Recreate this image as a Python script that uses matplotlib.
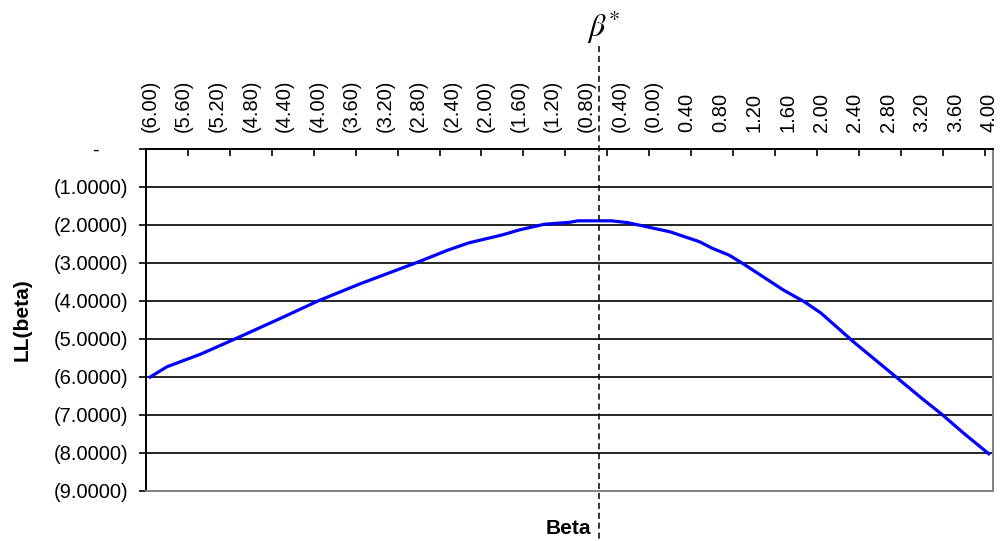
import numpy as np
from matplotlib import pyplot as plt
from matplotlib.transforms import blended_transform_factory

plt.rcParams['font.family'] = ['Liberation Sans', 'DejaVu Sans']
plt.rcParams['mathtext.fontset'] = 'stix'

# values (beta, LL(beta))
beta = [-6.0, -5.8, -5.4, -5.0, -4.4, -4.0, -3.5, -2.8, -2.45, -2.2, -1.8,
        -1.6, -1.3, -1.0, -0.9, -0.5, -0.3, 0.2, 0.55, 0.7, 0.9, 1.05,
        1.55, 1.8, 2.0, 2.4, 2.9, 3.2, 3.45, 3.7, 4.0]
ll = [-6.00, -5.73, -5.40, -5.01, -4.41, -4.00, -3.55, -2.97, -2.66, -2.47,
      -2.26, -2.13, -1.98, -1.93, -1.89, -1.89, -1.94, -2.18, -2.44, -2.61,
      -2.79, -2.99, -3.71, -4.02, -4.32, -5.10, -6.01, -6.56, -7.00, -7.48,
      -8.02]
beta_star = -0.65

x_labels = ["(6.00)", "(5.60)", "(5.20)", "(4.80)", "(4.40)", "(4.00)",
            "(3.60)", "(3.20)", "(2.80)", "(2.40)", "(2.00)", "(1.60)",
            "(1.20)", "(0.80)", "(0.40)", "(0.00)", "0.40", "0.80", "1.20",
            "1.60", "2.00", "2.40", "2.80", "3.20", "3.60", "4.00"]
y_vals = [0, -1, -2, -3, -4, -5, -6, -7, -8, -9]
y_labels = ["-     ", "(1.0000)", "(2.0000)", "(3.0000)", "(4.0000)",
            "(5.0000)", "(6.0000)", "(7.0000)", "(8.0000)", "(9.0000)"]

fig = plt.figure(figsize=(10.03, 5.41), dpi=100)
ax = fig.add_axes([146 / 1003, 1 - 491 / 541, 847 / 1003, 342 / 541])

# category axis: 101 slots of 0.1, ticks every 5 slots, labels every 4
ax.set_xlim(-6.05, 4.05)
ax.set_ylim(-9, 0)

for y in y_vals[1:-1]:
    ax.axhline(y, color='black', lw=1.2, zorder=1)

ax.plot(beta, ll, color='#0000ff', lw=2.3, zorder=3)

ax.xaxis.tick_top()
ax.set_xticks(np.arange(-6.05, 4.0, 0.5))
ax.set_xticks(np.linspace(-6.0, 4.0, len(x_labels)), minor=True)
ax.set_xticklabels([], minor=False)
ax.set_xticklabels(x_labels, minor=True, rotation=90, fontsize=14.5)
ax.tick_params(axis='x', which='major', direction='in', length=5, width=1.2,
               color='black')
ax.tick_params(axis='x', which='minor', length=0, pad=12)

ax.set_yticks(y_vals)
ax.set_yticklabels(y_labels, fontsize=14.5)
ax.tick_params(axis='y', direction='out', length=5, width=1.2, pad=8)

ax.spines['top'].set_color('black')
ax.spines['top'].set_linewidth(1.4)
ax.spines['left'].set_color('black')
ax.spines['left'].set_linewidth(1.4)
ax.spines['right'].set_color('#808080')
ax.spines['right'].set_linewidth(1.4)
ax.spines['bottom'].set_color('#808080')
ax.spines['bottom'].set_linewidth(1.4)

trans = blended_transform_factory(ax.transData, ax.transAxes)
ax.plot([beta_star, beta_star], [1.30, -0.16], transform=trans, clip_on=False,
        color='black', lw=1.1, dashes=(4, 2.5), zorder=4)
ax.text(beta_star + 0.05, 1.355, r'$\beta^{*}$', transform=trans, fontsize=23,
        ha='center', va='center')

fig.text(22 / 1003, 1 - 320 / 541, 'LL(beta)', rotation=90, fontsize=15,
         fontweight='bold', ha='center', va='center')
fig.text(568 / 1003, 1 - 529 / 541, 'Beta', fontsize=15, fontweight='bold',
         ha='center', va='center')

fig.savefig('out.png', dpi=100)
